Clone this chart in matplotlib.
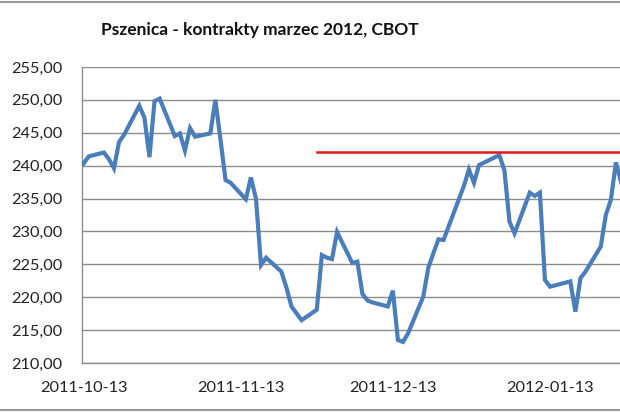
import datetime as dt
import matplotlib
matplotlib.use("Agg")
import matplotlib.pyplot as plt
import matplotlib.dates as mdates
from matplotlib.ticker import FuncFormatter

plt.rcParams['font.family'] = ['Lato', 'DejaVu Sans']

title = "Pszenica - kontrakty marzec 2012, CBOT"

dates = [
    "2011-10-13", "2011-10-14", "2011-10-17", "2011-10-18", "2011-10-19",
    "2011-10-20", "2011-10-21", "2011-10-24", "2011-10-25", "2011-10-26",
    "2011-10-27", "2011-10-28", "2011-10-31", "2011-11-01", "2011-11-02",
    "2011-11-03", "2011-11-04", "2011-11-07", "2011-11-08", "2011-11-09",
    "2011-11-10", "2011-11-11", "2011-11-14", "2011-11-15", "2011-11-16",
    "2011-11-17", "2011-11-18", "2011-11-21", "2011-11-22", "2011-11-23",
    "2011-11-25", "2011-11-28", "2011-11-29", "2011-11-30", "2011-12-01",
    "2011-12-02", "2011-12-05", "2011-12-06", "2011-12-07", "2011-12-08",
    "2011-12-09", "2011-12-12", "2011-12-13", "2011-12-14", "2011-12-15",
    "2011-12-16", "2011-12-19", "2011-12-20", "2011-12-21", "2011-12-22",
    "2011-12-23", "2011-12-27", "2011-12-28", "2011-12-29", "2011-12-30",
    "2012-01-03", "2012-01-04", "2012-01-05", "2012-01-06", "2012-01-09",
    "2012-01-10", "2012-01-11", "2012-01-12", "2012-01-13", "2012-01-17",
    "2012-01-18", "2012-01-19", "2012-01-20", "2012-01-23", "2012-01-24",
    "2012-01-25", "2012-01-26", "2012-01-27",
]
prices = [
    240.3, 241.4, 242.0, 241.0, 239.6,
    243.6, 244.7, 249.1, 247.3, 241.3,
    249.8, 250.2, 244.5, 244.9, 242.3,
    245.7, 244.4, 244.9, 250.0, 244.0,
    237.8, 237.4, 234.9, 238.2, 235.0,
    224.9, 226.0, 223.9, 221.5, 218.6,
    216.5, 218.1, 226.4, 226.0, 225.8,
    229.9, 225.2, 225.4, 220.5, 219.5,
    219.2, 218.6, 221.0, 213.5, 213.2,
    214.5, 220.1, 224.5, 226.7, 228.8,
    228.7, 236.9, 239.4, 237.4, 240.1,
    241.6, 239.3, 231.5, 229.7, 235.9,
    235.4, 235.9, 222.6, 221.6, 222.4,
    217.8, 222.9, 223.9, 227.7, 232.5,
    234.8, 240.5, 237.5,
]
ref_level = 242.0
ref_start = "2011-11-28"
ref_end = "2012-01-31"
xtick_dates = ["2011-10-13", "2011-11-13", "2011-12-13", "2012-01-13"]
yticks = [210, 215, 220, 225, 230, 235, 240, 245, 250, 255]

def d(s):
    return dt.datetime.strptime(s, "%Y-%m-%d")

x = [d(s) for s in dates]

fig = plt.figure(figsize=(6.2, 4.13), dpi=100)
ax = fig.add_axes([0.1323, 0.1211, 0.8677, 0.7167])

ax.plot(x, prices, color='#4a7ebb', linewidth=3, solid_joinstyle='miter', zorder=3)
ax.plot([d(ref_start), d(ref_end)], [ref_level, ref_level], color='#e41a1c', linewidth=1.8, zorder=4)

x0 = mdates.date2num(d("2011-10-13"))
ax.set_xlim(x0 - 0.3, x0 + 105.8)
ax.set_ylim(210, 255)
ax.set_yticks(yticks)
ax.yaxis.set_major_formatter(FuncFormatter(lambda v, p: f"{v:.2f}".replace('.', ',')))
ax.set_xticks([d(s) for s in xtick_dates])
ax.set_xticklabels(xtick_dates)
ax.grid(axis='y', color='#8c8c8c', linewidth=1)
ax.set_axisbelow(True)
ax.tick_params(axis='y', length=0, pad=14, labelsize=11.8, colors='#222222')
ax.tick_params(axis='x', length=0, pad=13, labelsize=11.8, colors='#222222')
for side in ['top', 'right']:
    ax.spines[side].set_visible(False)
for side in ['left', 'bottom']:
    ax.spines[side].set_color('#8c8c8c')
    ax.spines[side].set_linewidth(1)

fig.text(0.419, 0.927, title, ha='center', va='center', fontsize=12.5, fontweight='bold', color='#111111')

fig.add_artist(plt.Line2D([0, 1], [0.995, 0.995], color='#9a9a9a', linewidth=1.5))
fig.add_artist(plt.Line2D([0, 1], [0.007, 0.007], color='#9a9a9a', linewidth=1.5))

fig.savefig("out.png", dpi=100)
